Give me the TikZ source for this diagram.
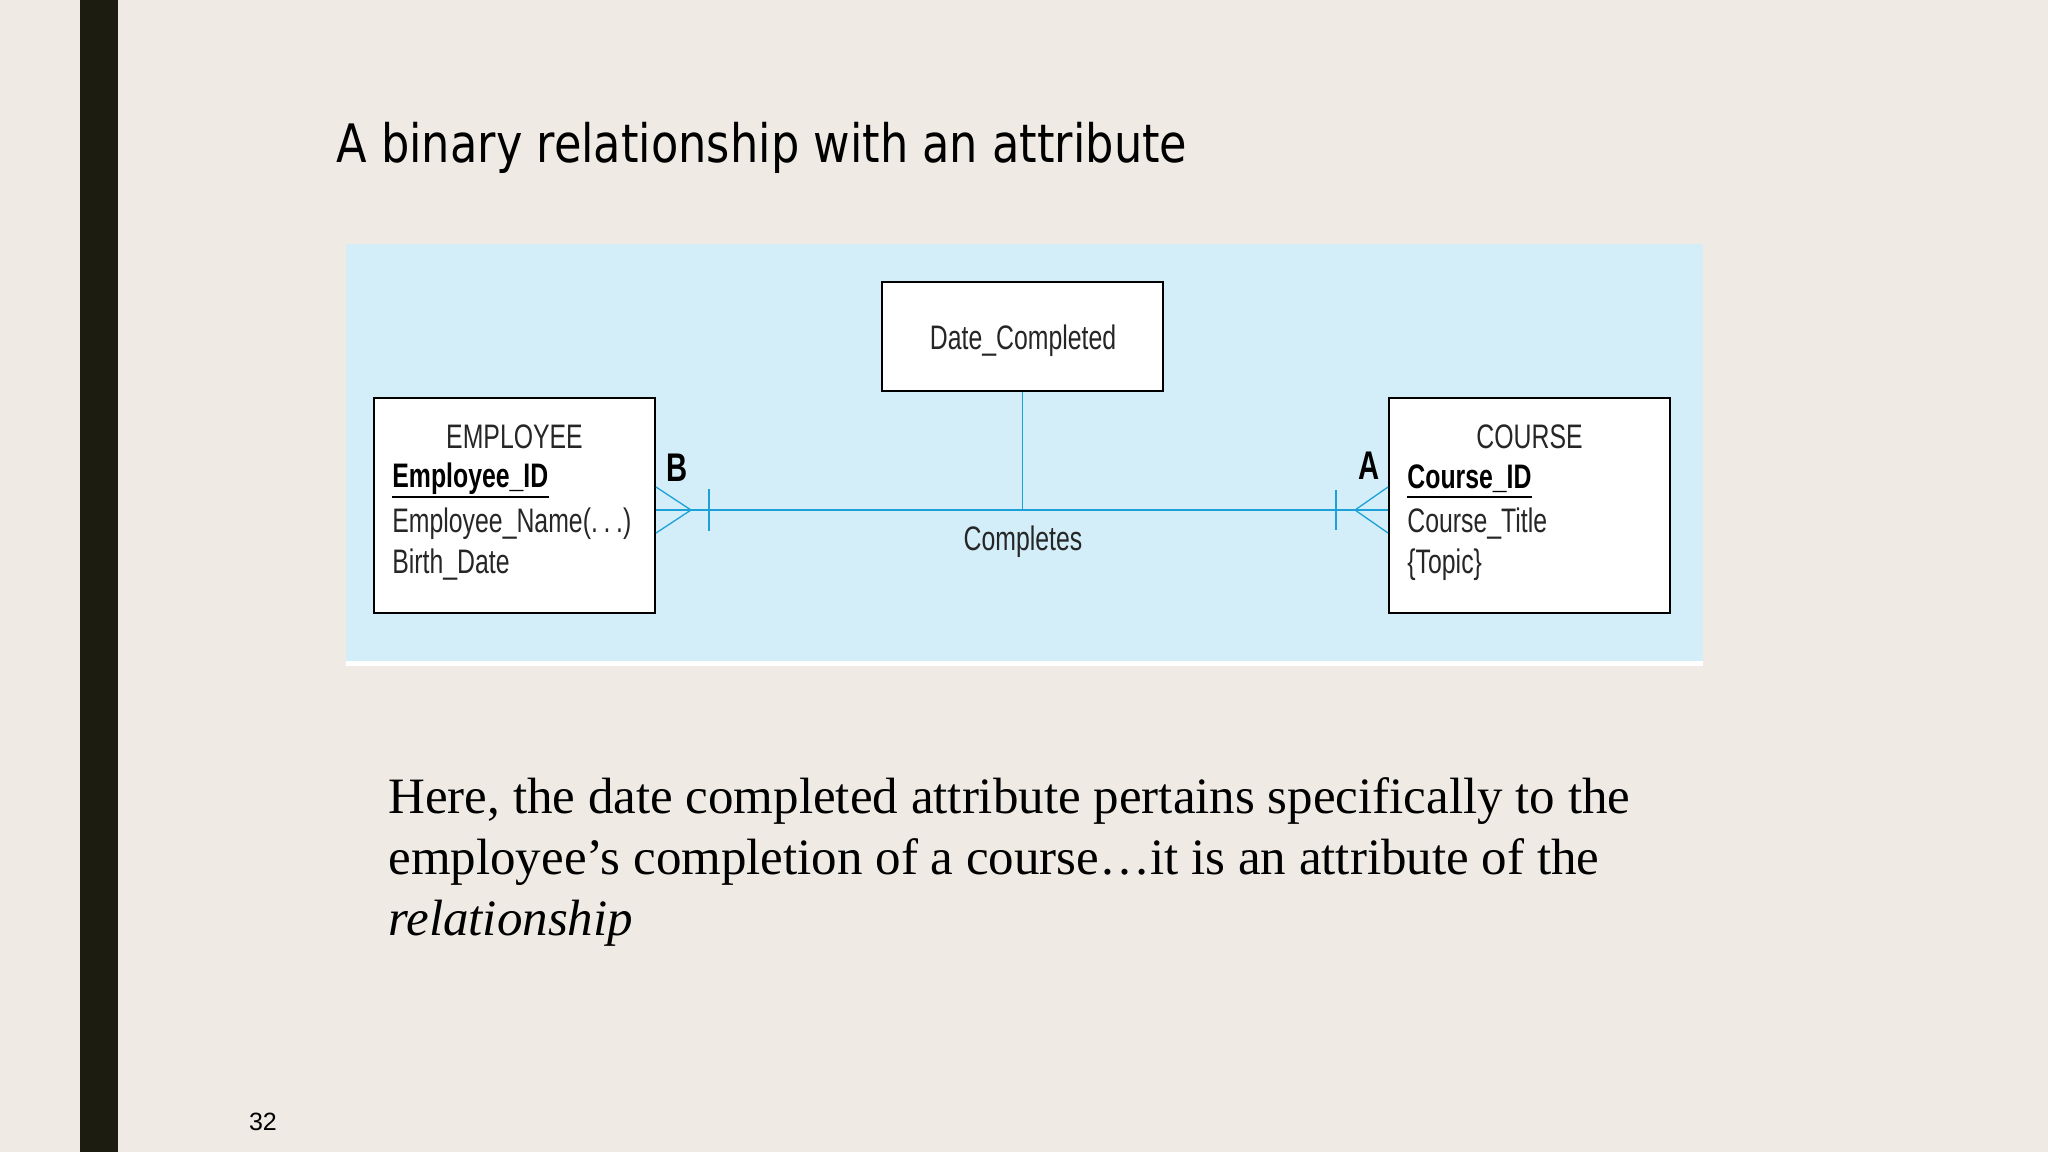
\documentclass[tikz,border=0pt]{standalone}
\usepackage{fontspec}
\setmainfont{Liberation Serif}
\newfontfamily\erfont[FakeStretch=0.73]{Liberation Sans}
\newfontfamily\titlefont[FakeStretch=0.843]{DejaVu Sans}
\newfontfamily\numfont{Liberation Sans}
\definecolor{bgcol}{RGB}{239,235,228}
\definecolor{barcol}{RGB}{28,28,16}
\definecolor{panelcol}{RGB}{211,238,249}
\definecolor{relcol}{RGB}{27,161,216}
\tikzset{
  entbox/.style={draw=black, line width=1pt, fill=white, inner sep=0pt},
  erlbl/.style={inner sep=0pt, font=\erfont\fontsize{17pt}{20pt}\selectfont, text=black!85},
  erkey/.style={inner sep=0pt, font=\erfont\bfseries\fontsize{17pt}{20pt}\selectfont, text=black},
  cardlbl/.style={inner sep=0pt, font=\erfont\bfseries\fontsize{20pt}{22pt}\selectfont, text=black},
  uline/.style={draw=black, line width=1pt},
  relmain/.style={draw=relcol, line width=1.2pt},
  relthin/.style={draw=relcol, line width=0.65pt},
  bodytxt/.style={inner sep=0pt, anchor=base west, font=\fontsize{25.5pt}{30pt}\selectfont},
}
\begin{document}
\begin{tikzpicture}[x=0.5pt,y=-0.5pt]
\useasboundingbox (0,0) rectangle (2048,1152);
\fill[bgcol] (0,0) rectangle (2048,1152);
\fill[barcol] (80,0) rectangle (118,1152);
% title
\node[inner sep=0pt, anchor=base west, font=\titlefont\fontsize{26.5pt}{30pt}\selectfont] (title) at (336,162) {A binary relationship with an attribute};
% panel
\fill[panelcol] (346,244) rectangle (1703,661);
\fill[white] (346,661) rectangle (1703,666);
% entity boxes
\node[entbox, minimum width=140.5pt, minimum height=107.5pt] (emp) at (514.5,505.5) {};
\node[entbox, minimum width=140.5pt, minimum height=107.5pt] (course) at (1529.5,505.5) {};
\node[entbox, minimum width=140.5pt, minimum height=54.5pt] (date) at (1022.5,336.5) {};
% employee text
\node[erlbl, anchor=base] (empT) at (514.5,448) {EMPLOYEE};
\node[erkey, anchor=base west] (empId) at (392,487) {Employee\_ID};
\node[erlbl, anchor=base west] (empName) at (392,532) {Employee\_Name(.\,.\,.)};
\node[erlbl, anchor=base west] (empBirth) at (392,573) {Birth\_Date};
\draw[uline] ([yshift=-5pt]empId.base west) -- ([yshift=-5pt]empId.base east);
% course text
\node[erlbl, anchor=base] (crsT) at (1529.5,448) {COURSE};
\node[erkey, anchor=base west] (crsId) at (1407,488) {Course\_ID};
\node[erlbl, anchor=base west] (crsTitle) at (1407,532) {Course\_Title};
\node[erlbl, anchor=base west] (crsTopic) at (1407,573) {\{Topic\}};
\draw[uline] ([yshift=-4.5pt]crsId.base west) -- ([yshift=-4.5pt]crsId.base east);
% attribute text
\node[erlbl, anchor=base] (dateT) at (1023,349) {Date\_Completed};
% relationship
\coordinate (rely) at (0,510);
\coordinate (eR) at (emp.east |- rely);
\coordinate (cL) at (course.west |- rely);
\coordinate (mid) at (date.south |- rely);
\draw[relmain] (eR) -- (cL);
\draw[relthin] (date.south) -- (mid);
% crow's foot + bar at employee end
\draw[relthin] ([yshift=11.5pt]eR) -- ([xshift=17.5pt]eR) -- ([yshift=-11.5pt]eR);
\draw[relthin] ([xshift=26.5pt,yshift=10.5pt]eR) -- ([xshift=26.5pt,yshift=-10.5pt]eR);
% crow's foot + bar at course end
\draw[relthin] ([yshift=11.5pt]cL) -- ([xshift=-16.5pt]cL) -- ([yshift=-11.5pt]cL);
\draw[relthin] ([xshift=-26pt,yshift=10pt]cL) -- ([xshift=-26pt,yshift=-10pt]cL);
% labels
\node[cardlbl, anchor=base] (lblB) at (677,481) {B};
\node[cardlbl, anchor=base] (lblA) at (1369,479) {A};
\node[erlbl, anchor=base] (relT) at (1023,550) {Completes};
% body text
\node[bodytxt] (l1) at (388,813) {Here, the date completed attribute pertains specifically to the};
\node[bodytxt] (l2) at (388,874) {employee’s completion of a course…it is an attribute of the};
\node[bodytxt] (l3) at (388,935) {\itshape relationship};
% page number
\node[inner sep=0pt, anchor=base, font=\numfont\fontsize{12.5pt}{14pt}\selectfont] (pgno) at (263,1130) {32};
\end{tikzpicture}
\end{document}
